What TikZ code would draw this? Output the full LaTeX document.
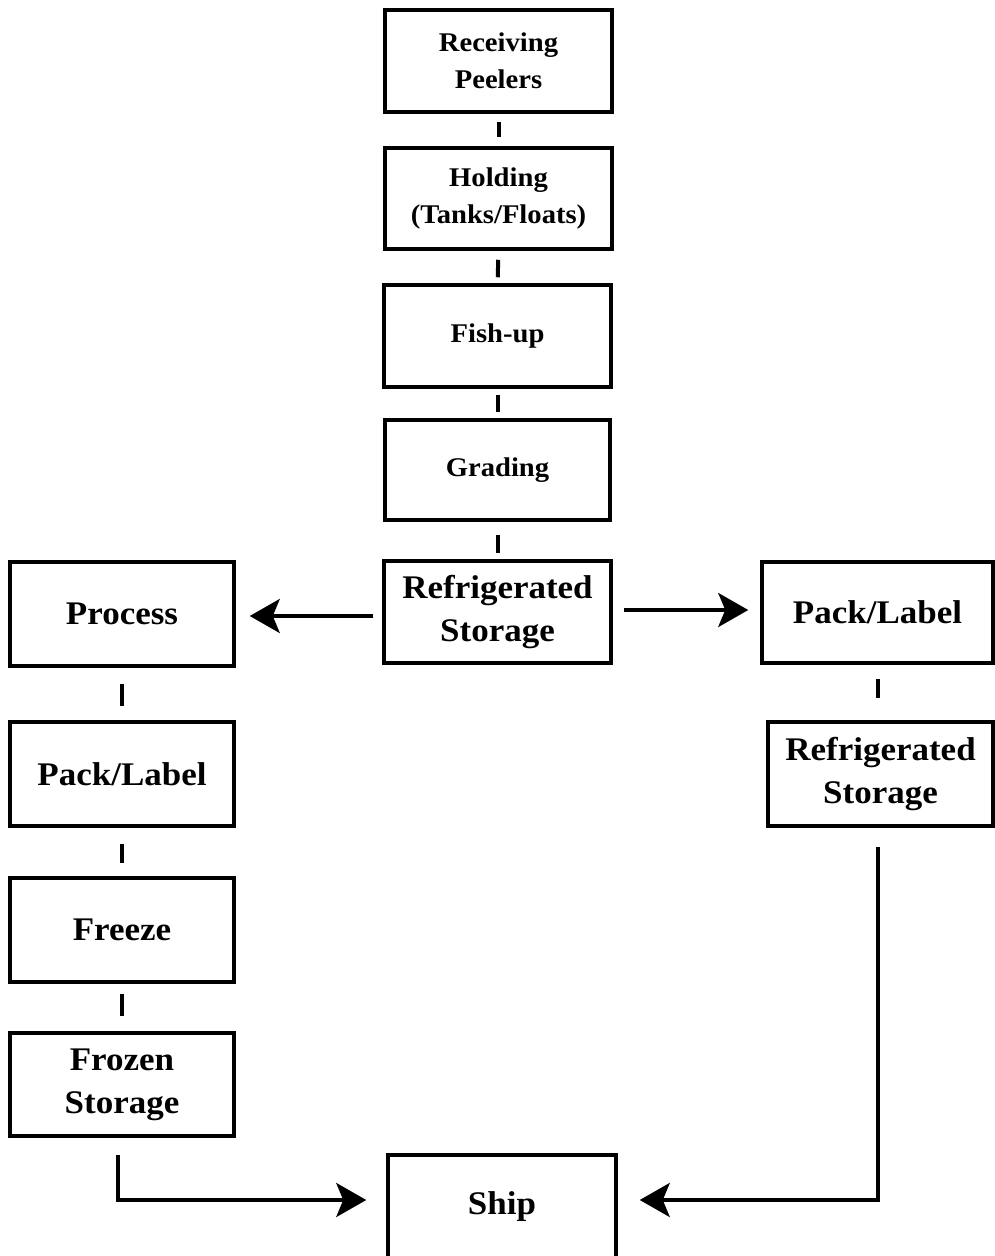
\documentclass[tikz,border=0pt]{standalone}
\usepackage{fontspec}
\setmainfont[FakeStretch=1.06]{Liberation Serif}
\usetikzlibrary{arrows.meta,calc}
\begin{document}
\begin{tikzpicture}[x=1pt,y=-1pt,
  box/.style={draw, line width=3.5pt, inner sep=0pt, align=center,
    font=\bfseries\fontsize{33}{43}\selectfont},
  smallbox/.style={box, font=\bfseries\fontsize{27}{37}\selectfont},
  tickline/.style={line width=4pt},
  flow/.style={line width=3.5pt, -{Stealth[length=30pt,width=34pt,inset=7pt]}}]
\useasboundingbox (0,0) rectangle (995,1256);
% centre column
\node[smallbox, minimum width=227pt, minimum height=102pt] (rp) at (498.5,61) {Receiving\\Peelers};
\node[smallbox, minimum width=227pt, minimum height=101pt] (hold) at (498.5,198.5) {Holding\\(Tanks/Floats)};
\node[smallbox, minimum width=227pt, minimum height=102pt] (fish) at (497.5,336) {Fish-up};
\node[smallbox, minimum width=225pt, minimum height=100pt] (grad) at (497.5,470) {Grading};
\node[box, minimum width=227pt, minimum height=102pt] (rs) at (497.5,612) {Refrigerated\\Storage};
% left column
\node[box, minimum width=224pt, minimum height=104pt] (proc) at (122,614) {Process};
\node[box, minimum width=224pt, minimum height=104pt] (pll) at (122,774) {Pack/Label};
\node[box, minimum width=224pt, minimum height=104pt] (frz) at (122,930) {Freeze};
\node[box, minimum width=224pt, minimum height=103pt] (fst) at (122,1084.5) {Frozen\\Storage};
% right column
\node[box, minimum width=231pt, minimum height=101pt] (plr) at (877.5,612.5) {Pack/Label};
\node[box, minimum width=225pt, minimum height=104pt] (rsr) at (880.5,774) {Refrigerated\\Storage};
% ship
\node[box, minimum width=228pt, minimum height=104pt] (ship) at (502,1207) {Ship};
% ticks
\draw[tickline, shorten <=8pt, shorten >=9pt] (rp) -- (hold);
\draw[tickline, shorten <=9pt, shorten >=6pt] (hold) -- (fish);
\draw[tickline, shorten <=6pt, shorten >=6pt] (fish) -- (grad);
\draw[tickline, shorten <=13pt, shorten >=6pt] (grad) -- (rs);
\draw[tickline, shorten <=16pt, shorten >=14pt] (proc) -- (pll);
\draw[tickline, shorten <=16pt, shorten >=13pt] (pll) -- (frz);
\draw[tickline, shorten <=10pt, shorten >=15pt] (frz) -- (fst);
\draw[tickline, shorten <=14pt, shorten >=22pt] (plr.south) -- (plr.south |- rsr.north);
% arrows
\coordinate (rsl) at ($(rs.west)+(0,4)$);
\coordinate (rsrt) at ($(rs.east)+(0,-2)$);
\draw[flow, shorten <=9pt, shorten >=14pt] (rsl) -- (rsl -| proc.east);
\draw[flow, shorten <=11pt, shorten >=12pt] (rsrt) -- (rsrt -| plr.west);
\coordinate (shipl) at ($(ship.west)+(0,-7)$);
\coordinate (shipr) at ($(ship.east)+(0,-7)$);
\coordinate (fsto) at ($(fst.south)+(-4,0)$);
\coordinate (rsro) at ($(rsr.south)+(-2.5,0)$);
\draw[flow, shorten <=17pt, shorten >=20pt] (fsto) |- (shipl);
\draw[flow, shorten <=19pt, shorten >=22pt] (rsro) |- (shipr);
\end{tikzpicture}
\end{document}
